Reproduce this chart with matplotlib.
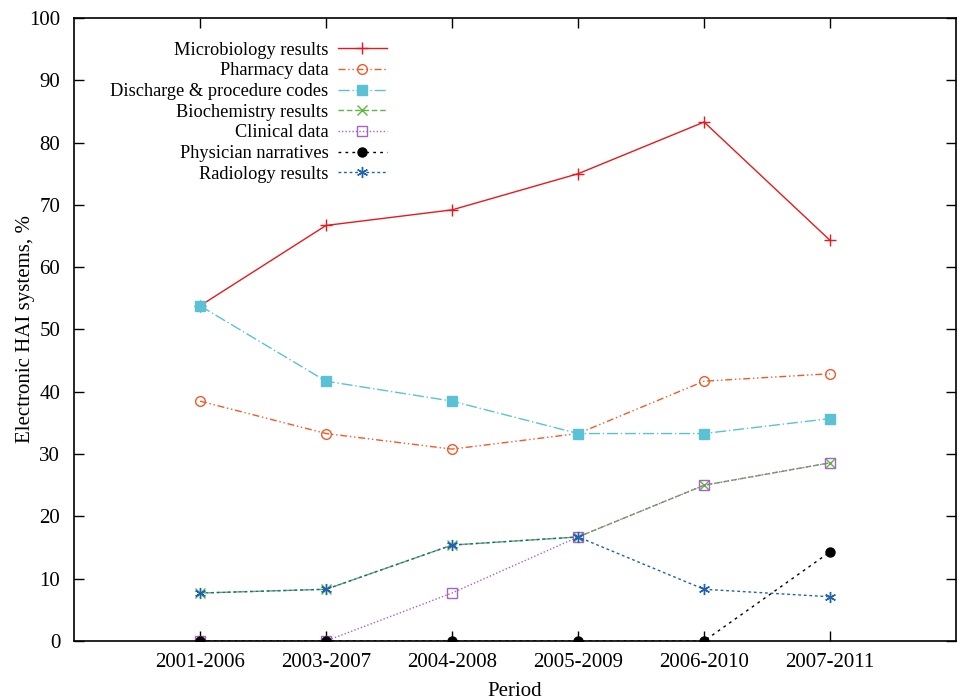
import numpy as np
import matplotlib.pyplot as plt

plt.rcParams['font.family'] = ['Liberation Serif', 'DejaVu Serif']

periods = ['2001-2006', '2003-2007', '2004-2008', '2005-2009', '2006-2010', '2007-2011']

microbiology = [53.8, 66.7, 69.2, 75.0, 83.3, 64.3]
pharmacy = [38.5, 33.3, 30.8, 33.3, 41.7, 42.9]
discharge = [53.8, 41.7, 38.5, 33.3, 33.3, 35.7]
biochemistry = [7.7, 8.3, 15.4, 16.7, 25.0, 28.6]
clinical = [0.0, 0.0, 7.7, 16.7, 25.0, 28.6]
physician = [0.0, 0.0, 0.0, 0.0, 0.0, 14.3]
radiology = [7.7, 8.3, 15.4, 16.7, 8.3, 7.1]

x = np.arange(1, len(periods) + 1)

fig = plt.figure(figsize=(9.64, 7.0), dpi=100)
ax = fig.add_axes([0.0768, 0.0843, 0.915, 0.89])

asterisk = (6, 2, 0)
ax.plot(x, microbiology, color='#e8191c', lw=1.0, marker='+', ms=8, mew=1.0,
        label='Microbiology results')
ax.plot(x, pharmacy, color='#f05a28', lw=1.0, ls=(0, (5, 2, 1, 2, 1, 2)), marker='o', ms=7,
        mfc='none', mew=1.0, label='Pharmacy data')
ax.plot(x, discharge, color='#5bc2d6', lw=1.0, ls=(0, (8, 2, 1, 2)), marker='s', ms=7,
        label='Discharge & procedure codes')
ax.plot(x, biochemistry, color='#5cb83c', lw=1.0, ls=(0, (4, 2)), marker='x', ms=7, mew=1.0,
        label='Biochemistry results')
ax.plot(x, clinical, color='#a564bd', lw=1.0, ls=(0, (1, 1.5)), marker='s', ms=7,
        mfc='none', mew=1.0, label='Clinical data')
ax.plot(x, physician, color='black', lw=1.0, ls=(0, (2, 3)), marker='o', ms=6.5,
        label='Physician narratives')
ax.plot(x, radiology, color='#2061b0', lw=1.0, ls=(0, (2, 2)), marker=asterisk, ms=8, mew=1.0,
        label='Radiology results')

ax.set_xlim(0, 7)
ax.set_ylim(0, 100)
ax.set_xticks(x)
ax.set_xticklabels(periods)
ax.set_yticks(np.arange(0, 101, 10))
ax.tick_params(direction='in', length=7, width=1, top=True, right=True,
               labelsize=15, pad=9)
ax.tick_params(axis='y', pad=10)
for s in ax.spines.values():
    s.set_linewidth(1.2)

ax.set_xlabel('Period', fontsize=15, labelpad=7)
ax.set_ylabel('Electronic HAI systems, %', fontsize=15, labelpad=-4)

ax.legend(loc='upper right', bbox_to_anchor=(0.355, 0.962), frameon=False, markerfirst=False,
          fontsize=13.2, handlelength=2.7, labelspacing=0.2, handletextpad=0.5,
          borderaxespad=0, borderpad=0)

fig.savefig('out.png', dpi=100)
